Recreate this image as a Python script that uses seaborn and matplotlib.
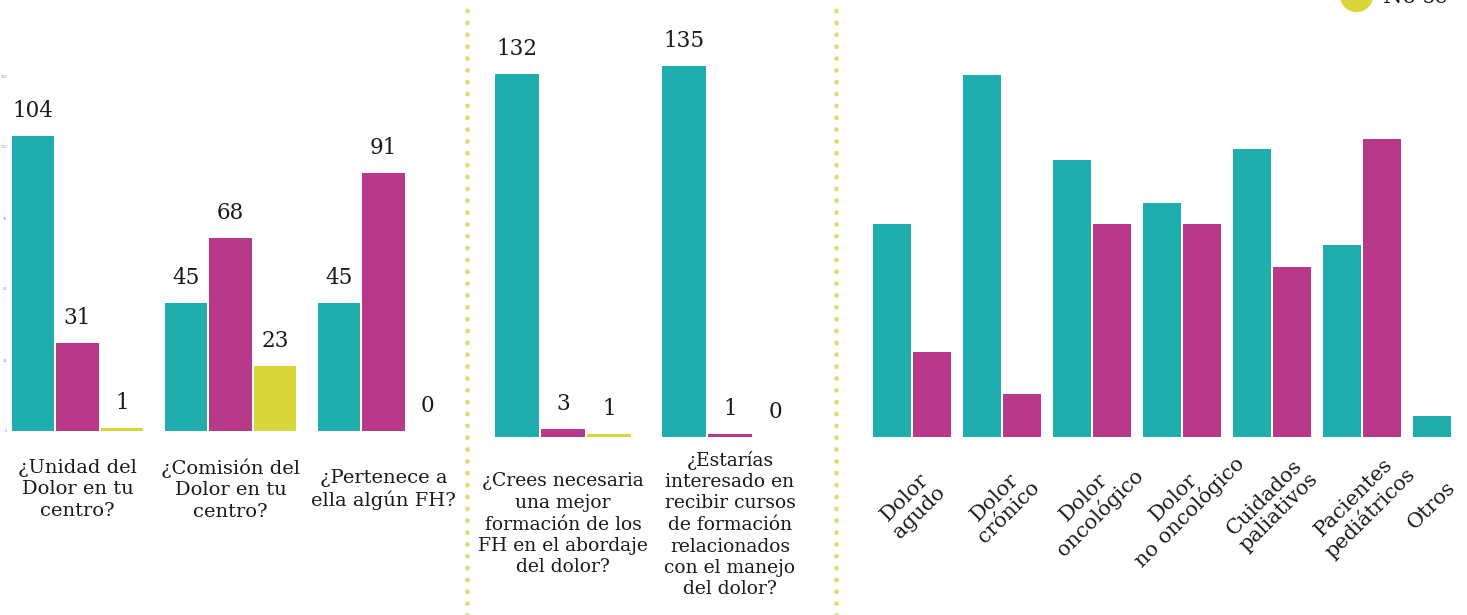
import numpy as np
import pandas as pd
import matplotlib
matplotlib.use("Agg")
import matplotlib.pyplot as plt
from matplotlib.lines import Line2D
import seaborn as sns

# ---------------- data ----------------
answers = ["Sí", "No", "No sé"]

q_left = ["¿Unidad del\nDolor en tu\ncentro?",
          "¿Comisión del\nDolor en tu\ncentro?",
          "¿Pertenece a\nella algún FH?"]
si_left = [104, 45, 45]
no_left = [31, 68, 91]
ns_left = [1, 23, 0]

q_mid = ["¿Crees necesaria\nuna mejor\nformación de los\nFH en el abordaje\ndel dolor?",
         "¿Estarías\ninteresado en\nrecibir cursos\nde formación\nrelacionados\ncon el manejo\ndel dolor?"]
si_mid = [132, 135]
no_mid = [3, 1]
ns_mid = [1, 0]

cats_right = ["Dolor\nagudo", "Dolor\ncrónico", "Dolor\noncológico", "Dolor\nno oncológico",
              "Cuidados\npaliativos", "Pacientes\npediátricos", "Otros"]
si_right = [20, 34, 26, 22, 27, 18, 2]
no_right = [8, 4, 20, 20, 16, 28, np.nan]

left_ticks = [0, 25, 50, 75, 100, 125]

# ---------------- style ----------------
TEAL = "#1FADAD"
MAGENTA = "#B8398A"
YELLOW = "#D9D63C"
DOT = "#DEDD7A"
palette = {"Sí": TEAL, "No": MAGENTA, "No sé": YELLOW}

sns.set_theme(style="white")
plt.rcParams["font.family"] = ["DejaVu Serif", "DejaVu Sans"]
TXT = "#1a1a1a"

W, H = 1467, 615
fig = plt.figure(figsize=(W / 100, H / 100), dpi=100)


def long_df(cats, series):
    rows = []
    for ans, vals in zip(answers, series):
        for c, v in zip(cats, vals):
            rows.append({"q": c, "ans": ans, "val": v})
    return pd.DataFrame(rows)


def fig_rect(x0, y_base, width, height):
    return [x0 / W, (H - y_base) / H, width / W, height / H]


# ---------- left panel ----------
axL = fig.add_axes(fig_rect(8.7, 431, 2.95 * 153, 426))
dfL = long_df(q_left, [si_left, no_left, ns_left])
sns.barplot(data=dfL, x="q", y="val", hue="ans", order=q_left, hue_order=answers,
            palette=palette, width=0.87, gap=0.05, linewidth=0,
            saturation=1, legend=False, ax=axL)
axL.set_xlim(-0.45, 2.5)
axL.set_ylim(0, 150)
axL.set_yticks(left_ticks)
axL.set_yticklabels([str(t) for t in left_ticks], fontsize=2.5, color="#888888",
                    family="DejaVu Sans")
axL.tick_params(axis="y", length=0, pad=1)
axL.set_xticks(range(len(q_left)))
axL.set_xticklabels(q_left, fontsize=14, color=TXT, va="center", ha="center",
                    multialignment="center", linespacing=1.25)
axL.tick_params(axis="x", length=0, pad=42)
for cont in axL.containers:
    axL.bar_label(cont, fmt="%d", padding=10, fontsize=15.5, color=TXT)

# ---------- middle panel ----------
axM = fig.add_axes(fig_rect(479.5, 437, 2 * 167, 432))
dfM = long_df(q_mid, [si_mid, no_mid, ns_mid])
sns.barplot(data=dfM, x="q", y="val", hue="ans", order=q_mid, hue_order=answers,
            palette=palette, width=0.825, gap=0.045, linewidth=0,
            saturation=1, legend=False, ax=axM)
axM.set_xlim(-0.5, 1.5)
axM.set_ylim(0, 432 / 2.75)
axM.set_yticks([])
axM.set_xticks(range(len(q_mid)))
axM.set_xticklabels(q_mid, fontsize=13.5, color=TXT, va="center", ha="center",
                    multialignment="center", linespacing=1.25)
axM.tick_params(axis="x", length=0, pad=63)
for cont in axM.containers:
    axM.bar_label(cont, fmt="%d", padding=10, fontsize=15.5, color=TXT)

# ---------- right panel ----------
RW = 0.9
axR = fig.add_axes(fig_rect(862.5, 437, 6.7 * 90, 432))
dfR = long_df(cats_right, [si_right, no_right])
dfR = dfR.dropna()
sns.barplot(data=dfR, x="q", y="val", hue="ans", order=cats_right, hue_order=answers[:2],
            palette=palette, width=RW, gap=0.05, linewidth=0,
            saturation=1, legend=False, ax=axR)
axR.set_xlim(-0.55, 6.15)
axR.set_ylim(0, 432 / 10.65)
axR.set_yticks([])
# label sits under the bars that exist in each group
tick_pos = [i if not np.isnan(n) else i - RW / 4 for i, n in enumerate(no_right)]
axR.set_xticks(tick_pos)
axR.set_xticklabels(cats_right, fontsize=15, color=TXT, rotation=45, va="center",
                    ha="center", rotation_mode="anchor", multialignment="center",
                    linespacing=1.1)
axR.tick_params(axis="x", length=0, pad=49)

for ax in (axL, axM, axR):
    ax.set_xlabel("")
    ax.set_ylabel("")
    for s in ax.spines.values():
        s.set_visible(False)
    ax.set_facecolor("none")

# ---------- dotted separators ----------
for xp in (467, 836):
    fig.add_artist(Line2D([xp / W, xp / W], [0, 1], transform=fig.transFigure,
                          color=DOT, linewidth=3.6, linestyle=(0, (0.01, 2.36)),
                          solid_capstyle="round", dash_capstyle="round"))

# ---------- legend (mostly outside the canvas) ----------
handles = [Line2D([], [], marker="o", linestyle="none", markersize=23,
                  markerfacecolor=palette[a], markeredgecolor=palette[a]) for a in answers]
fig.legend(handles, answers, loc="lower left", bbox_to_anchor=(1343 / W, 607 / H),
           frameon=False, fontsize=16, handlelength=1.2, handletextpad=0.6,
           borderpad=0, borderaxespad=0, labelspacing=0.8, labelcolor=TXT)

fig.savefig("out.png", dpi=100)
